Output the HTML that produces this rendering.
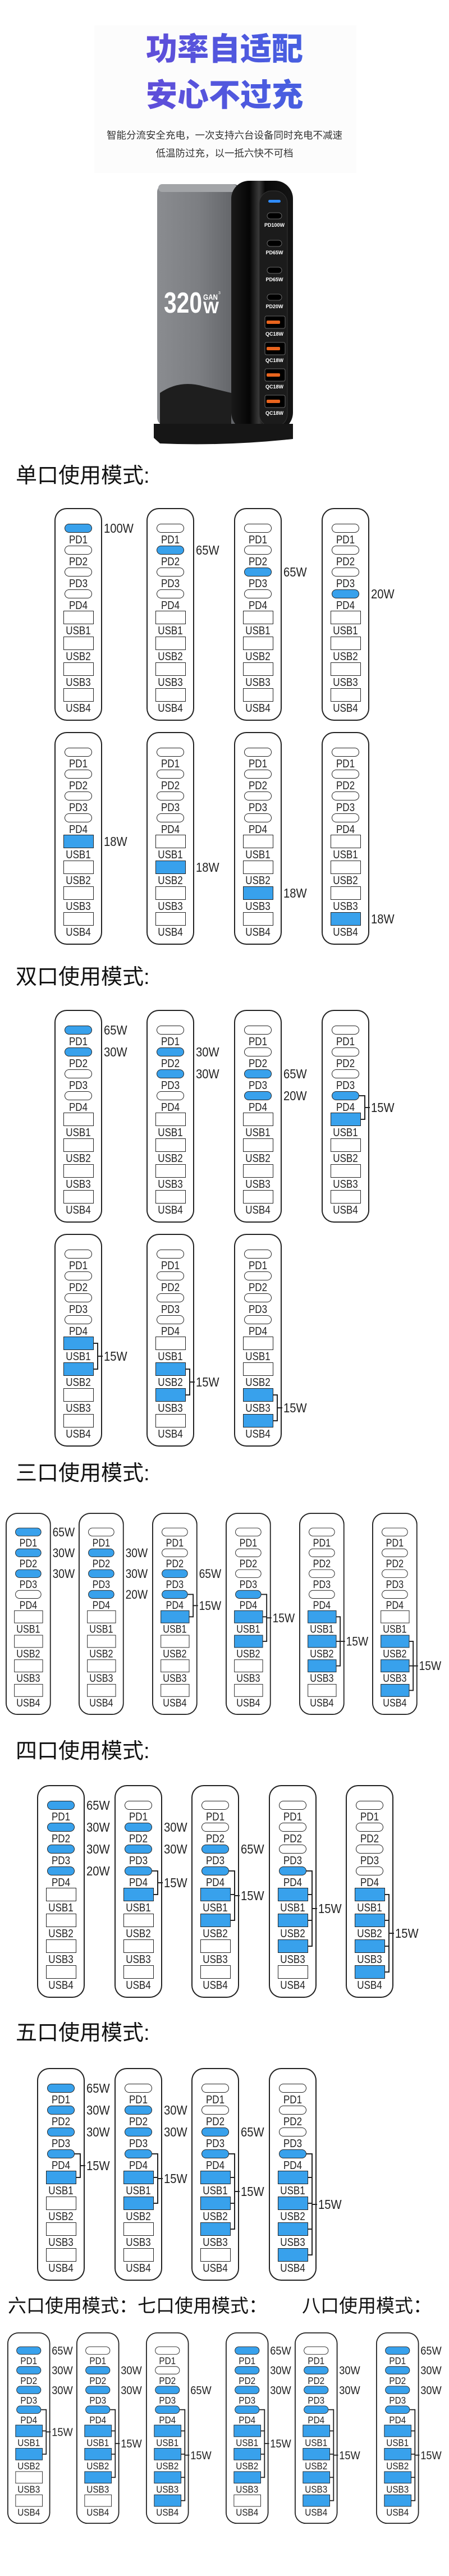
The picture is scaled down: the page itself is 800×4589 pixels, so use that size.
<!DOCTYPE html>
<html><head><meta charset="utf-8"><style>
*{margin:0;padding:0}
body{width:800px;height:4589px;position:relative;background:#fff;overflow:hidden;font-family:"Liberation Sans","Noto Sans CJK SC",sans-serif}
.hp{position:absolute;left:168px;top:45px;width:467px;height:263px;background:#fcfcfc}
.ht{position:absolute;left:0;width:800px;text-align:center;font:900 56px/64px "Liberation Sans","Noto Sans CJK SC",sans-serif;background:linear-gradient(90deg,#7a3dd0,#4a5ce0 60%,#3b6ee0);-webkit-background-clip:text;background-clip:text;color:transparent}
.hs{position:absolute;left:0;width:800px;text-align:center;font:17.5px/22px "Liberation Sans","Noto Sans CJK SC",sans-serif;color:#333}
.tt{position:absolute;left:28px;font:38px/44px "Liberation Sans","Noto Sans CJK SC",sans-serif;color:#111;white-space:nowrap}
.c{position:absolute;width:85px;height:379px;border-radius:22px;box-shadow:inset 0 0 0 2px #222;background:#fff;transform-origin:0 0}
.s95{transform:scale(.95)}.s90{transform:scale(.9)}
.c i{position:absolute;box-sizing:border-box;border:1.6px solid #222;background:#fff}
.c i.f{background:#38a1ec}
.p{left:18px;width:49px;height:16px;border-radius:8px}
.p1{top:28px}.p2{top:67px}.p3{top:106px}.p4{top:145px}
.u{left:16px;width:54px;height:24px}
.u1{top:183px}.u2{top:229px}.u3{top:275px}.u4{top:321px}
.c span{position:absolute;left:0;width:85px;text-align:center;font:20px/22px "Liberation Sans",sans-serif;color:#222;transform:scaleX(.85)}
.l1{top:46px}.l2{top:85px}.l3{top:124px}.l4{top:163px}.l5{top:208px}.l6{top:254px}.l7{top:300px}.l8{top:346px}
.w{position:absolute;left:88px;font:23px/26px "Liberation Sans",sans-serif;font-style:normal;color:#222;transform:scaleX(.88);transform-origin:0 50%;white-space:nowrap}
.w1{top:23px}.w2{top:62px}.w3{top:101px}.w4{top:140px}.w5{top:182px}.w6{top:228px}.w7{top:274px}.w8{top:320px}
.c b{position:absolute;background:#222;height:2px}
.k1,.k2,.k3,.k4{left:67px;width:10px}.k5,.k6,.k7,.k8{left:70px;width:7px}
.k1{top:35px}.k2{top:74px}.k3{top:113px}.k4{top:152px}.k5{top:194px}.k6{top:240px}.k7{top:286px}.k8{top:332px}
.c b.v{left:76px;width:2px}
.c b.t{left:76px;width:10px}
</style></head><body>

<div class="hp"></div>
<div class="ht" style="top:56px">功率自适配</div>
<div class="ht" style="top:138px">安心不过充</div>
<div class="hs" style="top:230px">智能分流安全充电，一次支持六台设备同时充电不减速</div>
<div class="hs" style="top:262px">低温防过充，以一抵六快不可档</div>

<svg style="position:absolute;left:0;top:0" width="800" height="800">
<defs>
<linearGradient id="gb" x1="0" x2="1" y1="0" y2="0"><stop offset="0" stop-color="#8a8c90"/><stop offset=".5" stop-color="#7c7e82"/><stop offset="1" stop-color="#5e6064"/></linearGradient>
<linearGradient id="gk" x1="0" x2="1"><stop offset="0" stop-color="#1a1a1a"/><stop offset=".3" stop-color="#050505"/><stop offset=".45" stop-color="#3a3a3a"/><stop offset=".55" stop-color="#080808"/><stop offset="1" stop-color="#151515"/></linearGradient>
</defs>
<rect x="280" y="328" width="150" height="430" rx="14" fill="url(#gb)"/>
<rect x="282" y="328" width="140" height="14" rx="7" fill="#a3a5a8"/>
<path d="M285 765 L285 700 Q320 676 362 688 L412 700 L412 765Z" fill="#1e1e1e"/>
<rect x="412" y="322" width="110" height="445" rx="32" fill="url(#gk)"/>
<rect x="462" y="340" width="50" height="420" rx="22" fill="#1b1b1b" stroke="#333"/>
<rect x="478" y="356" width="22" height="5" rx="2.5" fill="#2f8cff"/>
<g fill="#000" stroke="#666" stroke-width="1">
<rect x="476" y="379" width="26" height="11" rx="5.5"/><rect x="476" y="428" width="26" height="11" rx="5.5"/><rect x="476" y="476" width="26" height="11" rx="5.5"/><rect x="476" y="524" width="26" height="11" rx="5.5"/>
<rect x="472" y="563" width="36" height="22" rx="3"/><rect x="472" y="610" width="36" height="22" rx="3"/><rect x="472" y="657" width="36" height="22" rx="3"/><rect x="472" y="704" width="36" height="22" rx="3"/>
</g>
<g fill="#e8641e"><rect x="475" y="571" width="24" height="6" rx="2"/><rect x="475" y="618" width="24" height="6" rx="2"/><rect x="475" y="665" width="24" height="6" rx="2"/><rect x="475" y="712" width="24" height="6" rx="2"/></g>
<g fill="#fff" font-family="Liberation Sans" font-size="9" font-weight="bold" text-anchor="middle">
<text x="489" y="404">PD100W</text><text x="489" y="453">PD65W</text><text x="489" y="501">PD65W</text><text x="489" y="549">PD20W</text>
<text x="489" y="598">QC18W</text><text x="489" y="645">QC18W</text><text x="489" y="692">QC18W</text><text x="489" y="739">QC18W</text>
</g>
<text x="292" y="557" font-family="Liberation Sans" font-size="52" font-weight="bold" fill="#fff" textLength="68" lengthAdjust="spacingAndGlyphs">320</text>
<text x="362" y="558" font-family="Liberation Sans" font-size="30" font-weight="bold" fill="#fff" textLength="28" lengthAdjust="spacingAndGlyphs">W</text>
<text x="362" y="534" font-family="Liberation Sans" font-size="14" font-weight="bold" fill="#fff" textLength="26" lengthAdjust="spacingAndGlyphs">GAN</text>
<text x="389" y="524" font-family="Liberation Sans" font-size="7" fill="#fff">3</text>
<path d="M274 755 L522 755 L522 782 Q400 795 285 790 L274 780Z" fill="#161616"/>
</svg>

<div class="tt" style="top:826px">单口使用模式:</div>

<div class="c" style="left:97px;top:905px"><i class="p p1 f"></i><i class="p p2"></i><i class="p p3"></i><i class="p p4"></i><i class="u u1"></i><i class="u u2"></i><i class="u u3"></i><i class="u u4"></i><span class="l1">PD1</span><span class="l2">PD2</span><span class="l3">PD3</span><span class="l4">PD4</span><span class="l5">USB1</span><span class="l6">USB2</span><span class="l7">USB3</span><span class="l8">USB4</span><em class="w w1">100W</em></div>
<div class="c" style="left:261px;top:905px"><i class="p p1"></i><i class="p p2 f"></i><i class="p p3"></i><i class="p p4"></i><i class="u u1"></i><i class="u u2"></i><i class="u u3"></i><i class="u u4"></i><span class="l1">PD1</span><span class="l2">PD2</span><span class="l3">PD3</span><span class="l4">PD4</span><span class="l5">USB1</span><span class="l6">USB2</span><span class="l7">USB3</span><span class="l8">USB4</span><em class="w w2">65W</em></div>
<div class="c" style="left:417px;top:905px"><i class="p p1"></i><i class="p p2"></i><i class="p p3 f"></i><i class="p p4"></i><i class="u u1"></i><i class="u u2"></i><i class="u u3"></i><i class="u u4"></i><span class="l1">PD1</span><span class="l2">PD2</span><span class="l3">PD3</span><span class="l4">PD4</span><span class="l5">USB1</span><span class="l6">USB2</span><span class="l7">USB3</span><span class="l8">USB4</span><em class="w w3">65W</em></div>
<div class="c" style="left:573px;top:905px"><i class="p p1"></i><i class="p p2"></i><i class="p p3"></i><i class="p p4 f"></i><i class="u u1"></i><i class="u u2"></i><i class="u u3"></i><i class="u u4"></i><span class="l1">PD1</span><span class="l2">PD2</span><span class="l3">PD3</span><span class="l4">PD4</span><span class="l5">USB1</span><span class="l6">USB2</span><span class="l7">USB3</span><span class="l8">USB4</span><em class="w w4">20W</em></div>

<div class="c" style="left:97px;top:1304px"><i class="p p1"></i><i class="p p2"></i><i class="p p3"></i><i class="p p4"></i><i class="u u1 f"></i><i class="u u2"></i><i class="u u3"></i><i class="u u4"></i><span class="l1">PD1</span><span class="l2">PD2</span><span class="l3">PD3</span><span class="l4">PD4</span><span class="l5">USB1</span><span class="l6">USB2</span><span class="l7">USB3</span><span class="l8">USB4</span><em class="w w5">18W</em></div>
<div class="c" style="left:261px;top:1304px"><i class="p p1"></i><i class="p p2"></i><i class="p p3"></i><i class="p p4"></i><i class="u u1"></i><i class="u u2 f"></i><i class="u u3"></i><i class="u u4"></i><span class="l1">PD1</span><span class="l2">PD2</span><span class="l3">PD3</span><span class="l4">PD4</span><span class="l5">USB1</span><span class="l6">USB2</span><span class="l7">USB3</span><span class="l8">USB4</span><em class="w w6">18W</em></div>
<div class="c" style="left:417px;top:1304px"><i class="p p1"></i><i class="p p2"></i><i class="p p3"></i><i class="p p4"></i><i class="u u1"></i><i class="u u2"></i><i class="u u3 f"></i><i class="u u4"></i><span class="l1">PD1</span><span class="l2">PD2</span><span class="l3">PD3</span><span class="l4">PD4</span><span class="l5">USB1</span><span class="l6">USB2</span><span class="l7">USB3</span><span class="l8">USB4</span><em class="w w7">18W</em></div>
<div class="c" style="left:573px;top:1304px"><i class="p p1"></i><i class="p p2"></i><i class="p p3"></i><i class="p p4"></i><i class="u u1"></i><i class="u u2"></i><i class="u u3"></i><i class="u u4 f"></i><span class="l1">PD1</span><span class="l2">PD2</span><span class="l3">PD3</span><span class="l4">PD4</span><span class="l5">USB1</span><span class="l6">USB2</span><span class="l7">USB3</span><span class="l8">USB4</span><em class="w w8">18W</em></div>

<div class="tt" style="top:1719px">双口使用模式:</div>

<div class="c" style="left:97px;top:1799px"><i class="p p1 f"></i><i class="p p2 f"></i><i class="p p3"></i><i class="p p4"></i><i class="u u1"></i><i class="u u2"></i><i class="u u3"></i><i class="u u4"></i><span class="l1">PD1</span><span class="l2">PD2</span><span class="l3">PD3</span><span class="l4">PD4</span><span class="l5">USB1</span><span class="l6">USB2</span><span class="l7">USB3</span><span class="l8">USB4</span><em class="w w1">65W</em><em class="w w2">30W</em></div>
<div class="c" style="left:261px;top:1799px"><i class="p p1"></i><i class="p p2 f"></i><i class="p p3 f"></i><i class="p p4"></i><i class="u u1"></i><i class="u u2"></i><i class="u u3"></i><i class="u u4"></i><span class="l1">PD1</span><span class="l2">PD2</span><span class="l3">PD3</span><span class="l4">PD4</span><span class="l5">USB1</span><span class="l6">USB2</span><span class="l7">USB3</span><span class="l8">USB4</span><em class="w w2">30W</em><em class="w w3">30W</em></div>
<div class="c" style="left:417px;top:1799px"><i class="p p1"></i><i class="p p2"></i><i class="p p3 f"></i><i class="p p4 f"></i><i class="u u1"></i><i class="u u2"></i><i class="u u3"></i><i class="u u4"></i><span class="l1">PD1</span><span class="l2">PD2</span><span class="l3">PD3</span><span class="l4">PD4</span><span class="l5">USB1</span><span class="l6">USB2</span><span class="l7">USB3</span><span class="l8">USB4</span><em class="w w3">65W</em><em class="w w4">20W</em></div>
<div class="c" style="left:573px;top:1799px"><i class="p p1"></i><i class="p p2"></i><i class="p p3"></i><i class="p p4 f"></i><i class="u u1 f"></i><i class="u u2"></i><i class="u u3"></i><i class="u u4"></i><span class="l1">PD1</span><span class="l2">PD2</span><span class="l3">PD3</span><span class="l4">PD4</span><span class="l5">USB1</span><span class="l6">USB2</span><span class="l7">USB3</span><span class="l8">USB4</span><b class="k4"></b><b class="k5"></b><b class="v" style="top:152px;height:44px"></b><b class="t" style="top:173px"></b><em class="w" style="top:161px">15W</em></div>

<div class="c" style="left:97px;top:2198px"><i class="p p1"></i><i class="p p2"></i><i class="p p3"></i><i class="p p4"></i><i class="u u1 f"></i><i class="u u2 f"></i><i class="u u3"></i><i class="u u4"></i><span class="l1">PD1</span><span class="l2">PD2</span><span class="l3">PD3</span><span class="l4">PD4</span><span class="l5">USB1</span><span class="l6">USB2</span><span class="l7">USB3</span><span class="l8">USB4</span><b class="k5"></b><b class="k6"></b><b class="v" style="top:194px;height:48px"></b><b class="t" style="top:217px"></b><em class="w" style="top:205px">15W</em></div>
<div class="c" style="left:261px;top:2198px"><i class="p p1"></i><i class="p p2"></i><i class="p p3"></i><i class="p p4"></i><i class="u u1"></i><i class="u u2 f"></i><i class="u u3 f"></i><i class="u u4"></i><span class="l1">PD1</span><span class="l2">PD2</span><span class="l3">PD3</span><span class="l4">PD4</span><span class="l5">USB1</span><span class="l6">USB2</span><span class="l7">USB3</span><span class="l8">USB4</span><b class="k6"></b><b class="k7"></b><b class="v" style="top:240px;height:48px"></b><b class="t" style="top:263px"></b><em class="w" style="top:251px">15W</em></div>
<div class="c" style="left:417px;top:2198px"><i class="p p1"></i><i class="p p2"></i><i class="p p3"></i><i class="p p4"></i><i class="u u1"></i><i class="u u2"></i><i class="u u3 f"></i><i class="u u4 f"></i><span class="l1">PD1</span><span class="l2">PD2</span><span class="l3">PD3</span><span class="l4">PD4</span><span class="l5">USB1</span><span class="l6">USB2</span><span class="l7">USB3</span><span class="l8">USB4</span><b class="k7"></b><b class="k8"></b><b class="v" style="top:286px;height:48px"></b><b class="t" style="top:309px"></b><em class="w" style="top:297px">15W</em></div>

<div class="tt" style="top:2603px">三口使用模式:</div>

<div class="c s95" style="left:10px;top:2695px"><i class="p p1 f"></i><i class="p p2 f"></i><i class="p p3 f"></i><i class="p p4"></i><i class="u u1"></i><i class="u u2"></i><i class="u u3"></i><i class="u u4"></i><span class="l1">PD1</span><span class="l2">PD2</span><span class="l3">PD3</span><span class="l4">PD4</span><span class="l5">USB1</span><span class="l6">USB2</span><span class="l7">USB3</span><span class="l8">USB4</span><em class="w w1">65W</em><em class="w w2">30W</em><em class="w w3">30W</em></div>
<div class="c s95" style="left:140px;top:2695px"><i class="p p1"></i><i class="p p2 f"></i><i class="p p3 f"></i><i class="p p4 f"></i><i class="u u1"></i><i class="u u2"></i><i class="u u3"></i><i class="u u4"></i><span class="l1">PD1</span><span class="l2">PD2</span><span class="l3">PD3</span><span class="l4">PD4</span><span class="l5">USB1</span><span class="l6">USB2</span><span class="l7">USB3</span><span class="l8">USB4</span><em class="w w2">30W</em><em class="w w3">30W</em><em class="w w4">20W</em></div>
<div class="c s95" style="left:271px;top:2695px"><i class="p p1"></i><i class="p p2"></i><i class="p p3 f"></i><i class="p p4 f"></i><i class="u u1 f"></i><i class="u u2"></i><i class="u u3"></i><i class="u u4"></i><span class="l1">PD1</span><span class="l2">PD2</span><span class="l3">PD3</span><span class="l4">PD4</span><span class="l5">USB1</span><span class="l6">USB2</span><span class="l7">USB3</span><span class="l8">USB4</span><em class="w w3">65W</em><b class="k4"></b><b class="k5"></b><b class="v" style="top:152px;height:44px"></b><b class="t" style="top:173px"></b><em class="w" style="top:161px">15W</em></div>
<div class="c s95" style="left:402px;top:2695px"><i class="p p1"></i><i class="p p2"></i><i class="p p3"></i><i class="p p4 f"></i><i class="u u1 f"></i><i class="u u2 f"></i><i class="u u3"></i><i class="u u4"></i><span class="l1">PD1</span><span class="l2">PD2</span><span class="l3">PD3</span><span class="l4">PD4</span><span class="l5">USB1</span><span class="l6">USB2</span><span class="l7">USB3</span><span class="l8">USB4</span><b class="k4"></b><b class="k5"></b><b class="k6"></b><b class="v" style="top:152px;height:90px"></b><b class="t" style="top:196px"></b><em class="w" style="top:184px">15W</em></div>
<div class="c s95" style="left:533px;top:2695px"><i class="p p1"></i><i class="p p2"></i><i class="p p3"></i><i class="p p4"></i><i class="u u1 f"></i><i class="u u2 f"></i><i class="u u3 f"></i><i class="u u4"></i><span class="l1">PD1</span><span class="l2">PD2</span><span class="l3">PD3</span><span class="l4">PD4</span><span class="l5">USB1</span><span class="l6">USB2</span><span class="l7">USB3</span><span class="l8">USB4</span><b class="k5"></b><b class="k6"></b><b class="k7"></b><b class="v" style="top:194px;height:94px"></b><b class="t" style="top:240px"></b><em class="w" style="top:228px">15W</em></div>
<div class="c s95" style="left:663px;top:2695px"><i class="p p1"></i><i class="p p2"></i><i class="p p3"></i><i class="p p4"></i><i class="u u1"></i><i class="u u2 f"></i><i class="u u3 f"></i><i class="u u4 f"></i><span class="l1">PD1</span><span class="l2">PD2</span><span class="l3">PD3</span><span class="l4">PD4</span><span class="l5">USB1</span><span class="l6">USB2</span><span class="l7">USB3</span><span class="l8">USB4</span><b class="k6"></b><b class="k7"></b><b class="k8"></b><b class="v" style="top:240px;height:94px"></b><b class="t" style="top:286px"></b><em class="w" style="top:274px">15W</em></div>

<div class="tt" style="top:3098px">四口使用模式:</div>

<div class="c" style="left:66px;top:3180px"><i class="p p1 f"></i><i class="p p2 f"></i><i class="p p3 f"></i><i class="p p4 f"></i><i class="u u1"></i><i class="u u2"></i><i class="u u3"></i><i class="u u4"></i><span class="l1">PD1</span><span class="l2">PD2</span><span class="l3">PD3</span><span class="l4">PD4</span><span class="l5">USB1</span><span class="l6">USB2</span><span class="l7">USB3</span><span class="l8">USB4</span><em class="w w1">65W</em><em class="w w2">30W</em><em class="w w3">30W</em><em class="w w4">20W</em></div>
<div class="c" style="left:204px;top:3180px"><i class="p p1"></i><i class="p p2 f"></i><i class="p p3 f"></i><i class="p p4 f"></i><i class="u u1 f"></i><i class="u u2"></i><i class="u u3"></i><i class="u u4"></i><span class="l1">PD1</span><span class="l2">PD2</span><span class="l3">PD3</span><span class="l4">PD4</span><span class="l5">USB1</span><span class="l6">USB2</span><span class="l7">USB3</span><span class="l8">USB4</span><em class="w w2">30W</em><em class="w w3">30W</em><b class="k4"></b><b class="k5"></b><b class="v" style="top:152px;height:44px"></b><b class="t" style="top:173px"></b><em class="w" style="top:161px">15W</em></div>
<div class="c" style="left:341px;top:3180px"><i class="p p1"></i><i class="p p2"></i><i class="p p3 f"></i><i class="p p4 f"></i><i class="u u1 f"></i><i class="u u2 f"></i><i class="u u3"></i><i class="u u4"></i><span class="l1">PD1</span><span class="l2">PD2</span><span class="l3">PD3</span><span class="l4">PD4</span><span class="l5">USB1</span><span class="l6">USB2</span><span class="l7">USB3</span><span class="l8">USB4</span><em class="w w3">65W</em><b class="k4"></b><b class="k5"></b><b class="k6"></b><b class="v" style="top:152px;height:90px"></b><b class="t" style="top:196px"></b><em class="w" style="top:184px">15W</em></div>
<div class="c" style="left:479px;top:3180px"><i class="p p1"></i><i class="p p2"></i><i class="p p3"></i><i class="p p4 f"></i><i class="u u1 f"></i><i class="u u2 f"></i><i class="u u3 f"></i><i class="u u4"></i><span class="l1">PD1</span><span class="l2">PD2</span><span class="l3">PD3</span><span class="l4">PD4</span><span class="l5">USB1</span><span class="l6">USB2</span><span class="l7">USB3</span><span class="l8">USB4</span><b class="k4"></b><b class="k5"></b><b class="k6"></b><b class="k7"></b><b class="v" style="top:152px;height:136px"></b><b class="t" style="top:219px"></b><em class="w" style="top:207px">15W</em></div>
<div class="c" style="left:616px;top:3180px"><i class="p p1"></i><i class="p p2"></i><i class="p p3"></i><i class="p p4"></i><i class="u u1 f"></i><i class="u u2 f"></i><i class="u u3 f"></i><i class="u u4 f"></i><span class="l1">PD1</span><span class="l2">PD2</span><span class="l3">PD3</span><span class="l4">PD4</span><span class="l5">USB1</span><span class="l6">USB2</span><span class="l7">USB3</span><span class="l8">USB4</span><b class="k5"></b><b class="k6"></b><b class="k7"></b><b class="k8"></b><b class="v" style="top:194px;height:140px"></b><b class="t" style="top:263px"></b><em class="w" style="top:251px">15W</em></div>

<div class="tt" style="top:3600px">五口使用模式:</div>

<div class="c" style="left:66px;top:3684px"><i class="p p1 f"></i><i class="p p2 f"></i><i class="p p3 f"></i><i class="p p4 f"></i><i class="u u1 f"></i><i class="u u2"></i><i class="u u3"></i><i class="u u4"></i><span class="l1">PD1</span><span class="l2">PD2</span><span class="l3">PD3</span><span class="l4">PD4</span><span class="l5">USB1</span><span class="l6">USB2</span><span class="l7">USB3</span><span class="l8">USB4</span><em class="w w1">65W</em><em class="w w2">30W</em><em class="w w3">30W</em><b class="k4"></b><b class="k5"></b><b class="v" style="top:152px;height:44px"></b><b class="t" style="top:173px"></b><em class="w" style="top:161px">15W</em></div>
<div class="c" style="left:204px;top:3684px"><i class="p p1"></i><i class="p p2 f"></i><i class="p p3 f"></i><i class="p p4 f"></i><i class="u u1 f"></i><i class="u u2 f"></i><i class="u u3"></i><i class="u u4"></i><span class="l1">PD1</span><span class="l2">PD2</span><span class="l3">PD3</span><span class="l4">PD4</span><span class="l5">USB1</span><span class="l6">USB2</span><span class="l7">USB3</span><span class="l8">USB4</span><em class="w w2">30W</em><em class="w w3">30W</em><b class="k4"></b><b class="k5"></b><b class="k6"></b><b class="v" style="top:152px;height:90px"></b><b class="t" style="top:196px"></b><em class="w" style="top:184px">15W</em></div>
<div class="c" style="left:341px;top:3684px"><i class="p p1"></i><i class="p p2"></i><i class="p p3 f"></i><i class="p p4 f"></i><i class="u u1 f"></i><i class="u u2 f"></i><i class="u u3 f"></i><i class="u u4"></i><span class="l1">PD1</span><span class="l2">PD2</span><span class="l3">PD3</span><span class="l4">PD4</span><span class="l5">USB1</span><span class="l6">USB2</span><span class="l7">USB3</span><span class="l8">USB4</span><em class="w w3">65W</em><b class="k4"></b><b class="k5"></b><b class="k6"></b><b class="k7"></b><b class="v" style="top:152px;height:136px"></b><b class="t" style="top:219px"></b><em class="w" style="top:207px">15W</em></div>
<div class="c" style="left:479px;top:3684px"><i class="p p1"></i><i class="p p2"></i><i class="p p3"></i><i class="p p4 f"></i><i class="u u1 f"></i><i class="u u2 f"></i><i class="u u3 f"></i><i class="u u4 f"></i><span class="l1">PD1</span><span class="l2">PD2</span><span class="l3">PD3</span><span class="l4">PD4</span><span class="l5">USB1</span><span class="l6">USB2</span><span class="l7">USB3</span><span class="l8">USB4</span><b class="k4"></b><b class="k5"></b><b class="k6"></b><b class="k7"></b><b class="k8"></b><b class="v" style="top:152px;height:182px"></b><b class="t" style="top:242px"></b><em class="w" style="top:230px">15W</em></div>

<div class="tt" style="top:4088px;left:14px;font-size:33px;line-height:40px">六口使用模式：七口使用模式：</div>
<div class="tt" style="top:4088px;left:538px;font-size:33px;line-height:40px">八口使用模式：</div>

<div class="c s90" style="left:13px;top:4155px"><i class="p p1 f"></i><i class="p p2 f"></i><i class="p p3 f"></i><i class="p p4 f"></i><i class="u u1 f"></i><i class="u u2 f"></i><i class="u u3"></i><i class="u u4"></i><span class="l1">PD1</span><span class="l2">PD2</span><span class="l3">PD3</span><span class="l4">PD4</span><span class="l5">USB1</span><span class="l6">USB2</span><span class="l7">USB3</span><span class="l8">USB4</span><em class="w w1">65W</em><em class="w w2">30W</em><em class="w w3">30W</em><b class="k4"></b><b class="k5"></b><b class="k6"></b><b class="v" style="top:152px;height:90px"></b><b class="t" style="top:196px"></b><em class="w" style="top:184px">15W</em></div>
<div class="c s90" style="left:136px;top:4155px"><i class="p p1"></i><i class="p p2 f"></i><i class="p p3 f"></i><i class="p p4 f"></i><i class="u u1 f"></i><i class="u u2 f"></i><i class="u u3 f"></i><i class="u u4"></i><span class="l1">PD1</span><span class="l2">PD2</span><span class="l3">PD3</span><span class="l4">PD4</span><span class="l5">USB1</span><span class="l6">USB2</span><span class="l7">USB3</span><span class="l8">USB4</span><em class="w w2">30W</em><em class="w w3">30W</em><b class="k4"></b><b class="k5"></b><b class="k6"></b><b class="k7"></b><b class="v" style="top:152px;height:136px"></b><b class="t" style="top:219px"></b><em class="w" style="top:207px">15W</em></div>
<div class="c s90" style="left:260px;top:4155px"><i class="p p1"></i><i class="p p2"></i><i class="p p3 f"></i><i class="p p4 f"></i><i class="u u1 f"></i><i class="u u2 f"></i><i class="u u3 f"></i><i class="u u4 f"></i><span class="l1">PD1</span><span class="l2">PD2</span><span class="l3">PD3</span><span class="l4">PD4</span><span class="l5">USB1</span><span class="l6">USB2</span><span class="l7">USB3</span><span class="l8">USB4</span><em class="w w3">65W</em><b class="k4"></b><b class="k5"></b><b class="k6"></b><b class="k7"></b><b class="k8"></b><b class="v" style="top:152px;height:182px"></b><b class="t" style="top:242px"></b><em class="w" style="top:230px">15W</em></div>
<div class="c s90" style="left:402px;top:4155px"><i class="p p1 f"></i><i class="p p2 f"></i><i class="p p3 f"></i><i class="p p4 f"></i><i class="u u1 f"></i><i class="u u2 f"></i><i class="u u3 f"></i><i class="u u4"></i><span class="l1">PD1</span><span class="l2">PD2</span><span class="l3">PD3</span><span class="l4">PD4</span><span class="l5">USB1</span><span class="l6">USB2</span><span class="l7">USB3</span><span class="l8">USB4</span><em class="w w1">65W</em><em class="w w2">30W</em><em class="w w3">30W</em><b class="k4"></b><b class="k5"></b><b class="k6"></b><b class="k7"></b><b class="v" style="top:152px;height:136px"></b><b class="t" style="top:219px"></b><em class="w" style="top:207px">15W</em></div>
<div class="c s90" style="left:525px;top:4155px"><i class="p p1"></i><i class="p p2 f"></i><i class="p p3 f"></i><i class="p p4 f"></i><i class="u u1 f"></i><i class="u u2 f"></i><i class="u u3 f"></i><i class="u u4 f"></i><span class="l1">PD1</span><span class="l2">PD2</span><span class="l3">PD3</span><span class="l4">PD4</span><span class="l5">USB1</span><span class="l6">USB2</span><span class="l7">USB3</span><span class="l8">USB4</span><em class="w w2">30W</em><em class="w w3">30W</em><b class="k4"></b><b class="k5"></b><b class="k6"></b><b class="k7"></b><b class="k8"></b><b class="v" style="top:152px;height:182px"></b><b class="t" style="top:242px"></b><em class="w" style="top:230px">15W</em></div>
<div class="c s90" style="left:670px;top:4155px"><i class="p p1 f"></i><i class="p p2 f"></i><i class="p p3 f"></i><i class="p p4 f"></i><i class="u u1 f"></i><i class="u u2 f"></i><i class="u u3 f"></i><i class="u u4 f"></i><span class="l1">PD1</span><span class="l2">PD2</span><span class="l3">PD3</span><span class="l4">PD4</span><span class="l5">USB1</span><span class="l6">USB2</span><span class="l7">USB3</span><span class="l8">USB4</span><em class="w w1">65W</em><em class="w w2">30W</em><em class="w w3">30W</em><b class="k4"></b><b class="k5"></b><b class="k6"></b><b class="k7"></b><b class="k8"></b><b class="v" style="top:152px;height:182px"></b><b class="t" style="top:242px"></b><em class="w" style="top:230px">15W</em></div>

</body></html>
